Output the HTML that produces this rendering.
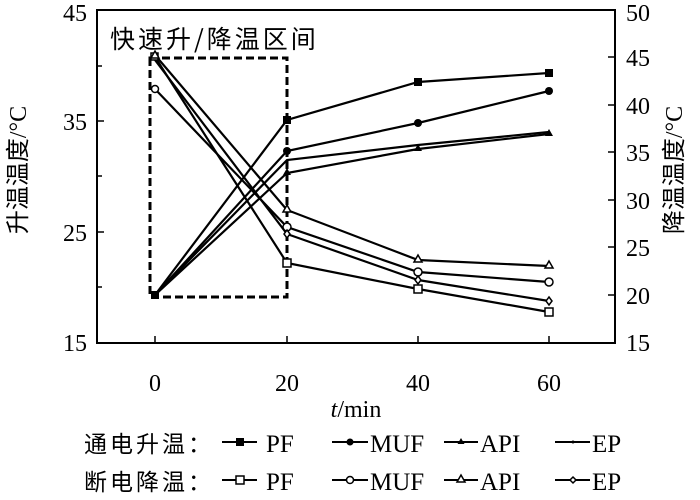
<!DOCTYPE html><html><head><style>body{margin:0;background:#fff}svg{font-family:"Liberation Serif","Noto Serif CJK SC",serif}</style></head><body>
<svg width="700" height="495" viewBox="0 0 700 495" xmlns="http://www.w3.org/2000/svg">
<rect width="700" height="495" fill="#fff"/>
<rect x="97" y="10" width="518" height="333" fill="none" stroke="#000" stroke-width="2"/>
<g stroke="#000" stroke-width="1.5">
<line x1="97" y1="121" x2="104" y2="121"/><line x1="97" y1="232" x2="104" y2="232"/>
<line x1="97" y1="66" x2="102" y2="66"/><line x1="97" y1="176" x2="102" y2="176"/><line x1="97" y1="287" x2="102" y2="287"/>
<line x1="608" y1="57" x2="615" y2="57"/><line x1="608" y1="105" x2="615" y2="105"/><line x1="608" y1="152" x2="615" y2="152"/><line x1="608" y1="200" x2="615" y2="200"/><line x1="608" y1="247" x2="615" y2="247"/><line x1="608" y1="295" x2="615" y2="295"/>
<line x1="155" y1="343" x2="155" y2="336"/><line x1="287" y1="343" x2="287" y2="336"/><line x1="418" y1="343" x2="418" y2="336"/><line x1="549" y1="343" x2="549" y2="336"/>
</g>
<g font-size="24" text-anchor="end"><text x="87" y="21">45</text><text x="87" y="130">35</text><text x="87" y="241">25</text><text x="87" y="351">15</text></g>
<g font-size="24"><text x="626" y="21">50</text><text x="626" y="66">45</text><text x="626" y="114">40</text><text x="626" y="161">35</text><text x="626" y="209">30</text><text x="626" y="256">25</text><text x="626" y="304">20</text><text x="626" y="351">15</text></g>
<g font-size="24" text-anchor="middle"><text x="155" y="391">0</text><text x="287" y="391">20</text><text x="418" y="391">40</text><text x="549" y="391">60</text>
<text x="356" y="417"><tspan font-style="italic">t</tspan>/min</text></g>
<text transform="translate(26,170) rotate(-90)" font-size="24" text-anchor="middle"><tspan font-family="Noto Sans CJK SC,sans-serif">升温温度</tspan>/°C</text>
<text transform="translate(682,170) rotate(-90)" font-size="24" text-anchor="middle"><tspan font-family="Noto Sans CJK SC,sans-serif">降温温度</tspan>/°C</text>
<text x="110" y="48" font-size="25" font-family="Noto Sans CJK SC,sans-serif" letter-spacing="3">快速升/降温区间</text>
<rect x="150" y="58" width="137" height="239" fill="none" stroke="#000" stroke-width="3" stroke-dasharray="8,4"/>
<g fill="none" stroke="#000" stroke-width="2.2">
<polyline points="155,295 287,120 418,82 549,73"/>
<polyline points="155,295 287,151 418,123 549,91"/>
<polyline points="155,295 287,173 418,149 549,134"/>
<polyline points="155,295 287,160 418,145 549,132"/>
<polyline points="155,57 287,263 418,289 549,312"/>
<polyline points="155,89 287,227 418,272 549,282"/>
<polyline points="155,55 287,210 418,260 549,266"/>
<polyline points="155,60 287,234 418,280 549,301"/>
</g>
<g fill="#000"><rect x="151" y="291" width="8" height="8"/><rect x="283" y="116" width="8" height="8"/><rect x="414" y="78" width="8" height="8"/><rect x="545" y="69" width="8" height="8"/>
<circle cx="287" cy="151" r="4"/><circle cx="418" cy="123" r="4"/><circle cx="549" cy="91" r="4"/>
<path d="M287,168l4,7h-8z M418,144l4,7h-8z M549,129l4,7h-8z"/></g>
<g fill="#fff" stroke="#000" stroke-width="1.5">
<rect x="283" y="259" width="8" height="8"/><rect x="414" y="285" width="8" height="8"/><rect x="545" y="308" width="8" height="8"/><rect x="151" y="53" width="7" height="7"/>
<circle cx="155" cy="89" r="3.5"/><circle cx="287" cy="227" r="4"/><circle cx="418" cy="272" r="4"/><circle cx="549" cy="282" r="4"/>
<path d="M155,51l4,7h-8z M287,205l4,7h-8z M418,255l4,7h-8z M549,261l4,7h-8z"/>
<path d="M287,230l3,4-3,4-3-4z M418,276l3,4-3,4-3-4z M549,297l3,4-3,4-3-4z"/></g>
<g font-size="25">
<text x="84" y="452" font-family="Noto Sans CJK SC,sans-serif" font-size="23" letter-spacing="3">通电升温：</text>
<text x="84" y="490" font-family="Noto Sans CJK SC,sans-serif" font-size="23" letter-spacing="3">断电降温：</text>
<text x="266" y="452">PF</text><text x="370" y="452">MUF</text><text x="480" y="452">API</text><text x="592" y="452">EP</text>
<text x="266" y="490">PF</text><text x="370" y="490">MUF</text><text x="480" y="490">API</text><text x="592" y="490">EP</text>
</g>
<g stroke="#000" stroke-width="2"><line x1="222" y1="442" x2="257" y2="442"/><line x1="332" y1="442" x2="368" y2="442"/><line x1="444" y1="442" x2="478" y2="442"/><line x1="555" y1="442" x2="590" y2="442"/>
<line x1="222" y1="480" x2="257" y2="480"/><line x1="332" y1="480" x2="368" y2="480"/><line x1="444" y1="480" x2="478" y2="480"/><line x1="555" y1="480" x2="590" y2="480"/></g>
<g fill="#000"><rect x="236" y="438" width="8" height="8"/><circle cx="350" cy="442" r="3.5"/><path d="M461,438l3.5,6h-7z"/><circle cx="573" cy="442" r="1.5"/></g>
<g fill="#fff" stroke="#000" stroke-width="1.5"><rect x="236" y="476" width="8" height="8"/><circle cx="350" cy="480" r="3.5"/><path d="M461,475l4,7h-8z"/><path d="M573,477l3,3-3,3-3-3z"/></g>
</svg></body></html>
